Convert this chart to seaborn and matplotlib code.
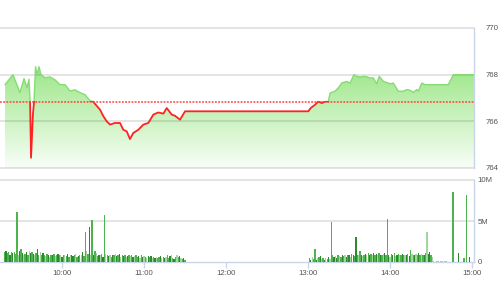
import numpy as np
import pandas as pd
import matplotlib
matplotlib.use("Agg")
import matplotlib.pyplot as plt
from matplotlib.patches import Rectangle
import seaborn as sns

# ---------------- data ----------------
# time in minutes after 09:00
price_time = [18.3, 24.1, 29.2, 32.2, 34.4, 35.8, 36.6, 37.3, 38.7, 39.5, 40.6, 41.7, 43.1,
              44.6, 47.5, 51.2, 54.8, 58.5, 62.2, 65.8, 69.5, 73.1, 76.8, 80.5, 82.6, 87.8,
              90.2, 92.7, 95.1, 98.7, 102.4, 104.8, 107.3, 109.7, 112.1, 115.8, 119.5, 123.1,
              126.8, 130.4, 134.1, 136.6, 140.2, 142.6, 146.3, 150.0, 240.2, 241.9, 245.1,
              247.5, 250.0, 252.4, 254.8, 256.1, 259.7, 262.1, 264.6, 268.3, 270.7, 273.6,
              275.6, 278.0, 281.7, 285.3, 287.7, 290.2, 292.1, 295.1, 298.7, 300.0, 302.4,
              306.0, 309.7, 312.2, 314.6, 317.0, 319.5, 320.7, 323.2, 325.6, 329.2, 342.6,
              346.3, 361.4]
price_value = [767.57, 768.00, 767.23, 767.83, 767.44, 767.80, 766.85, 764.44, 766.30, 766.85,
               768.34, 768.00, 768.34, 768.00, 767.87, 767.90, 767.78, 767.57, 767.57, 767.30,
               767.35, 767.23, 767.14, 766.88, 766.85, 766.50, 766.22, 766.00, 765.86, 765.93,
               765.93, 765.64, 765.57, 765.24, 765.50, 765.64, 765.86, 765.93, 766.29, 766.38,
               766.33, 766.57, 766.29, 766.24, 766.07, 766.43, 766.43, 766.57, 766.71, 766.85,
               766.78, 766.85, 766.85, 767.21, 767.29, 767.43, 767.64, 767.71, 767.64, 768.00,
               767.93, 767.90, 767.93, 767.86, 767.86, 767.61, 767.93, 767.71, 767.64, 767.61,
               767.64, 767.29, 767.29, 767.36, 767.33, 767.24, 767.36, 767.29, 767.64, 767.57,
               767.57, 767.57, 768.00, 768.00]
reference_price = 766.85

morning_start = 18
morning_volume = [1.2, 1.3, 1.1, 1.2, 0.9, 1.2, 1.1, 1.2, 1.0, 6.1,
                  0.8, 1.3, 1.6, 1.1, 0.9, 1.0, 1.2, 0.8, 1.3, 1.1,
                  1.2, 1.0, 0.9, 1.1, 1.6, 0.9, 1.2, 0.8, 1.1, 0.9,
                  0.7, 1.0, 0.9, 0.6, 0.8, 0.9, 1.0, 0.7, 0.8, 1.0,
                  0.9, 0.8, 0.6, 0.8, 0.9, 0.7, 1.0, 0.6, 0.8, 0.9,
                  0.7, 0.8, 1.0, 0.6, 0.7, 0.9, 0.8, 1.2, 0.7, 3.6,
                  1.4, 1.0, 4.3, 0.9, 5.1, 0.8, 1.3, 1.1, 0.7, 0.9,
                  0.8, 1.0, 0.6, 5.7, 1.0, 0.8, 0.7, 0.9, 0.6, 0.8,
                  0.9, 1.0, 0.7, 0.8, 1.0, 0.6, 0.8, 0.7, 0.9, 0.6,
                  0.7, 0.8, 0.7, 0.9, 0.6, 0.7, 0.8, 0.6, 0.7, 0.5,
                  0.8, 0.6, 0.7, 0.6, 0.5, 0.7, 0.6, 0.7, 0.5, 0.6,
                  0.5, 0.6, 0.5, 0.6, 0.7, 0.5, 0.6, 0.5, 0.6, 0.9,
                  0.5, 0.7, 0.8, 0.5, 0.4, 0.6, 0.9, 0.6, 0.7, 0.5,
                  0.4, 0.5, 0.3]
morning_shade = ("mdmmdmdmmm" "ldmdlmdmld" "mdlmdmlmdm" "lmdlmdmlmd" "mldmlmdmld"
                 "dmlmdmldmm" "lmdlmdmlmd" "lmdmlmdlmd" "mldmdlmdml" "dmlmdlmmdl"
                 "mdlmldmdlm" "dlmmdlmdlm" "mdlmdmlmdl" "mdm")

afternoon_start = 241
afternoon_volume = [0.5, 0.2, 0.6, 0.4, 1.55, 0.3, 0.5, 0.6, 0.7, 0.4,
                    0.5, 0.3, 0.5, 0.4, 0.6, 0.4, 4.9, 0.8, 0.6, 0.7,
                    0.5, 0.8, 0.7, 0.6, 0.8, 0.7, 0.9, 0.6, 0.8, 0.9,
                    0.6, 1.0, 0.8, 0.7, 3.1, 0.9, 0.8, 1.3, 0.9, 0.7,
                    0.9, 1.0, 0.8, 1.1, 0.9, 1.0, 0.8, 1.1, 0.9, 1.0,
                    0.8, 1.1, 0.9, 0.8, 1.0, 1.1, 0.9, 5.2, 0.8, 0.6,
                    1.0, 0.9, 1.1, 0.7, 0.9, 1.0, 0.8, 0.9, 1.0, 0.8,
                    0.9, 0.8, 1.0, 0.7, 1.5, 1.0, 0.8, 0.9, 1.0, 0.8,
                    1.1, 0.9, 1.0, 0.8, 0.9, 1.1, 3.6, 1.0, 1.2, 0.9,
                    0.6]
afternoon_shade = ("mdlmmdlmdl" "mdlmdlmmdl" "dmlmdmldmd" "lmdmdmlmdl" "mdlmdmldmd"
                   "lmdmldmmdl" "mdmldmlmdm" "ldmdmlmdlm" "dmlmdmlddm" "l")

late_time = [332, 333, 334, 335, 336, 337, 338, 339, 340, 341, 342, 343, 344, 346, 350, 354, 356, 358]
late_volume = [0.08, 0.06, 0.08, 0.07, 0.06, 0.08, 0.07, 0.06, 0.08, 0.07, 0.06, 0.05, 0.06,
               8.5, 1.1, 0.5, 8.2, 0.6]
late_shade = "lllllllllllll" "mdmmd"

hour_ticks = [60, 120, 180, 240, 300, 360]
hour_labels = ["10:00", "11:00", "12:00", "13:00", "14:00", "15:00"]
price_ticks = [764, 766, 768, 770]
volume_ticks = [0, 5, 10]
volume_labels = ["0", "5M", "10M"]

# ---------------- style ----------------
sns.set_theme(style="white")
plt.rcParams["font.family"] = ["Liberation Sans", "DejaVu Sans"]

W, H = 501, 300
fig = plt.figure(figsize=(W / 100, H / 100), dpi=100)
fig.patch.set_facecolor("white")

XMIN, XMAX = 14.6, 361.4
ax_right = 474 / W
ax1 = fig.add_axes([0, 1 - 168 / H, ax_right, 140 / H])
ax2 = fig.add_axes([0, 1 - 262 / H, ax_right, 82 / H])

border_col = "#c9d6e8"
label_col = "#555555"

# ---------------- price panel ----------------
df = pd.DataFrame({"t": price_time, "p": price_value})
poly = ax1.fill_between(df["t"], df["p"], 764, facecolor="none", edgecolor="none")
top_c = np.array([0.60, 0.90, 0.52])
bot_c = np.array([0.975, 0.997, 0.97])
fr = np.linspace(0, 1, 256)[:, None]
grad = (bot_c[None, :] * (1 - fr) + top_c[None, :] * fr)[:, None, :]
im = ax1.imshow(grad, extent=[XMIN, XMAX, 764, 768.5], origin="lower",
                aspect="auto", zorder=1, interpolation="bilinear")
im.set_clip_path(poly.get_paths()[0], transform=ax1.transData)

sns.lineplot(data=df, x="t", y="p", ax=ax1, color="#86dc72", lw=1.0, zorder=3)
green_line = ax1.lines[-1]
green_line.set_clip_path(Rectangle((XMIN, reference_price), XMAX - XMIN, 10,
                                   transform=ax1.transData))
sns.lineplot(data=df, x="t", y="p", ax=ax1, color="#ff2222", lw=1.3, zorder=4)
red_line = ax1.lines[-1]
red_line.set_clip_path(Rectangle((XMIN, 760), XMAX - XMIN, reference_price - 760,
                                 transform=ax1.transData))

ax1.axhline(reference_price, color="#ff4040", lw=1.1, ls=(0, (1.2, 0.9)), zorder=5)

for v in price_ticks:
    ax1.axhline(v, color=(0, 0, 0, 0.11), lw=1.4, zorder=2, clip_on=False)

ax1.set_xlim(XMIN, XMAX)
ax1.set_ylim(764, 770)
ax1.set_xticks([])
ax1.set_xlabel("")
ax1.set_ylabel("")
ax1.yaxis.tick_right()
ax1.set_yticks(price_ticks)
ax1.set_yticklabels([str(v) for v in price_ticks])
ax1.tick_params(axis="y", length=0, pad=8.5, labelsize=5.6, labelcolor=label_col)
for lab in ax1.get_yticklabels():
    lab.set_horizontalalignment("left")
for s in ["top", "left", "bottom"]:
    ax1.spines[s].set_visible(False)
ax1.spines["right"].set_color(border_col)
ax1.spines["right"].set_linewidth(1.0)
ax1.set_facecolor("none")

# ---------------- volume panel ----------------
shade_colors = {"d": "#2b8a2b", "m": "#4db34d", "l": "#9fd79f"}
vt = list(np.arange(morning_start, morning_start + len(morning_volume))) + \
     list(np.arange(afternoon_start, afternoon_start + len(afternoon_volume))) + late_time
vv = morning_volume + afternoon_volume + late_volume
vs = morning_shade + afternoon_shade + late_shade
ax2.bar(vt, vv, width=0.95, color=[shade_colors[c] for c in vs], linewidth=0, zorder=3)

for v in [5, 10]:
    ax2.axhline(v, color=(0, 0, 0, 0.11), lw=1.4, zorder=1, clip_on=False)

ax2.set_xlim(XMIN, XMAX)
ax2.set_ylim(0, 10)
ax2.set_xticks(hour_ticks)
ax2.set_xticklabels(hour_labels)
ax2.tick_params(axis="x", length=4, width=1, color=border_col, pad=2,
                labelsize=5.6, labelcolor=label_col, bottom=True)
ax2.yaxis.tick_right()
ax2.set_yticks(volume_ticks)
ax2.set_yticklabels(volume_labels)
ax2.tick_params(axis="y", length=0, pad=2.5, labelsize=5.6, labelcolor=label_col)
for s in ["top", "left"]:
    ax2.spines[s].set_visible(False)
for s in ["right", "bottom"]:
    ax2.spines[s].set_color(border_col)
    ax2.spines[s].set_linewidth(1.0)
ax2.set_facecolor("none")

fig.savefig("out.png", dpi=100, facecolor="white")
